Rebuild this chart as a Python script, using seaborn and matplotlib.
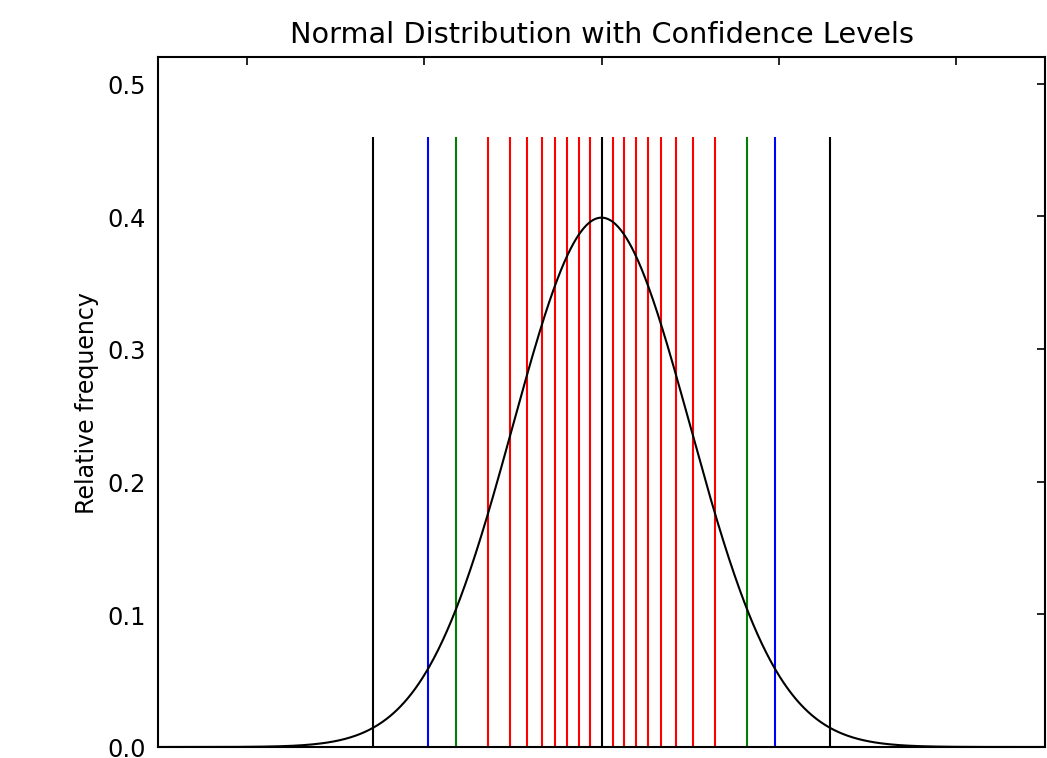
import numpy as np
import pandas as pd
import matplotlib
matplotlib.use("Agg")
import matplotlib.pyplot as plt
import seaborn as sns

# distribution parameters
mu = 0.0
sigma = 1.0
x_min, x_max = -5.0, 5.0

# confidence levels and their critical z values
red_levels = [0.10, 0.20, 0.30, 0.40, 0.50, 0.60, 0.70, 0.80]
red_z = [0.126, 0.253, 0.385, 0.524, 0.674, 0.842, 1.036, 1.282]
green_z = [1.645]   # 90 %
blue_z = [1.960]    # 95 %
black_z = [2.576]   # 99 %
line_top = 0.46
y_ticks = [0.0, 0.1, 0.2, 0.3, 0.4, 0.5]
x_ticks = [-4, -2, 0, 2, 4]

sns.set_style("white")
plt.rcParams["font.family"] = ["DejaVu Sans"]
plt.rcParams.update({
    "xtick.direction": "in", "ytick.direction": "in",
    "xtick.top": True, "ytick.right": True,
    "xtick.major.size": 4, "ytick.major.size": 4,
    "axes.edgecolor": "black", "axes.linewidth": 1.0,
    "text.color": "black", "axes.labelcolor": "black",
    "xtick.color": "black", "ytick.color": "black",
})

fig = plt.figure(figsize=(1047 / 150, 759 / 150), dpi=150)
ax = fig.add_axes([158 / 1047, 1 - 748 / 759, (1045 - 158) / 1047, (748 - 58) / 759])

xs = np.linspace(x_min, x_max, 1001)
pdf = np.exp(-0.5 * ((xs - mu) / sigma) ** 2) / (sigma * np.sqrt(2 * np.pi))
df = pd.DataFrame({"x": xs, "y": pdf})

def vl(zs, color):
    pos = [mu + z * sigma for z in zs] + [mu - z * sigma for z in zs]
    ax.vlines(pos, 0, line_top, colors=color, linewidth=1.0)

vl(red_z, "red")
vl(green_z, "green")
vl(blue_z, "blue")
vl(black_z, "black")
ax.vlines([mu], 0, line_top, colors="black", linewidth=1.0)

sns.lineplot(data=df, x="x", y="y", color="black", linewidth=1.0, ax=ax)

ax.set_xlim(x_min, x_max)
ax.set_ylim(0, 0.52)
ax.set_xticks(x_ticks)
ax.set_yticks(y_ticks)
ax.set_yticklabels([f"{v:.1f}" for v in y_ticks])
ax.tick_params(axis="x", labelbottom=False)
ax.tick_params(axis="y", labelsize=11.5, pad=6)
ax.set_xlabel("")
ax.set_ylabel("Relative frequency", fontsize=11.4, labelpad=4, color="black")
ax.set_title("Normal Distribution with Confidence Levels", fontsize=13.8, color="black", pad=7)
for s in ax.spines.values():
    s.set_visible(True)
    s.set_color("black")

fig.savefig("out.png", dpi=150)
